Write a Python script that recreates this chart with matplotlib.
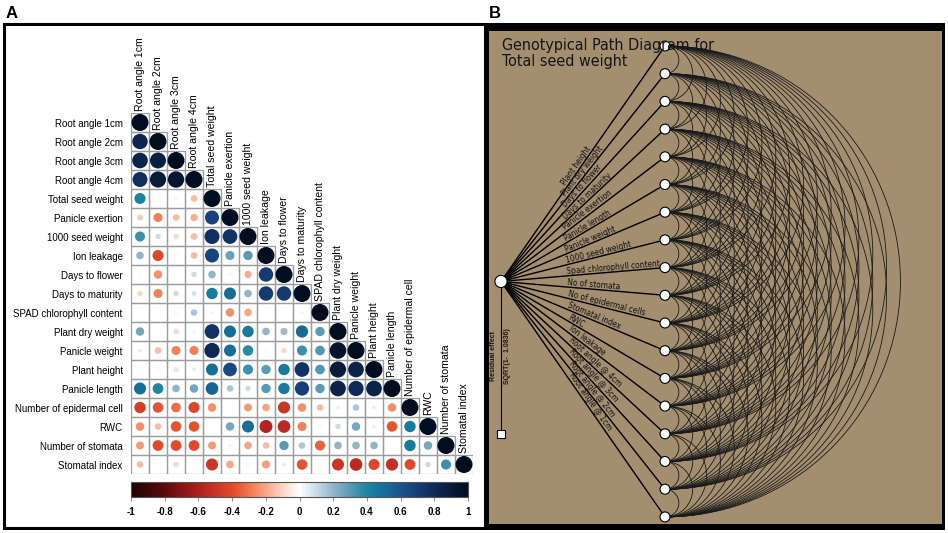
import numpy as np
import matplotlib
matplotlib.use('Agg')
import matplotlib.pyplot as plt
from matplotlib.colors import LinearSegmentedColormap, Normalize
from matplotlib.patches import Rectangle, Circle, Arc
import matplotlib.colorbar as mcolorbar

W, H = 948, 533

# ---- panel A data: lower triangle of the correlation matrix ----
traits = ['Root angle 1cm', 'Root angle 2cm', 'Root angle 3cm', 'Root angle 4cm',
          'Total seed weight', 'Panicle exertion', '1000 seed weight', 'Ion leakage',
          'Days to flower', 'Days to maturity', 'SPAD chlorophyll content',
          'Plant dry weight', 'Panicle weight', 'Plant height', 'Panicle length',
          'Number of epidermal cell', 'RWC', 'Number of stomata', 'Stomatal index']

corr_rows = [
    [1],
    [0.82, 1],
    [0.84, 0.88, 1],
    [0.78, 0.90, 0.93, 1],
    [0.42, 0.02, 0.03, -0.15, 1],
    [-0.12, -0.28, -0.15, -0.18, 0.68, 1],
    [0.35, 0.10, -0.10, -0.15, 0.78, 0.75, 1],
    [0.20, -0.42, 0.03, -0.15, 0.68, 0.28, 0.30, 1],
    [0.02, -0.25, 0.0, 0.10, 0.20, -0.03, -0.18, 0.72, 1],
    [-0.10, -0.28, 0.10, 0.08, 0.45, 0.50, 0.20, 0.72, 0.72, 1],
    [0.0, 0.01, 0.03, 0.15, 0.03, -0.25, -0.20, 0.0, 0.0, 0.03, 1],
    [0.25, 0.02, -0.10, 0.03, 0.75, 0.50, 0.45, 0.20, 0.18, 0.52, 0.30, 1],
    [0.05, -0.15, -0.28, -0.28, 0.80, 0.50, 0.38, 0.02, -0.10, 0.35, 0.32, 0.95, 1],
    [0.01, 0.02, -0.08, 0.05, 0.50, 0.65, 0.35, 0.30, 0.45, 0.75, 0.32, 0.90, 0.85, 1],
    [0.50, 0.40, 0.20, 0.25, 0.55, 0.15, 0.10, 0.30, 0.45, 0.70, 0.30, 0.85, 0.80, 0.85, 1],
    [-0.45, -0.38, -0.32, -0.42, -0.25, 0.0, -0.22, -0.20, -0.50, -0.25, -0.15, 0.04, 0.15,
     0.04, -0.25, 1],
    [-0.25, -0.15, -0.38, -0.38, 0.0, 0.25, 0.50, -0.58, -0.55, -0.28, 0.03, 0.10, 0.25,
     0.04, -0.38, 0.45, 1],
    [-0.22, -0.40, -0.40, -0.40, -0.22, 0.03, -0.20, -0.15, 0.30, 0.15, -0.35, 0.20, 0.20,
     0.20, 0.0, 0.45, 0.25, 1],
    [-0.15, 0.0, -0.10, 0.0, -0.50, -0.20, 0.03, -0.22, 0.05, -0.38, 0.02, -0.50, -0.55,
     -0.42, -0.52, -0.40, 0.10, 0.35, 1],
]

cbar_ticks = [-1, -0.8, -0.6, -0.4, -0.2, 0, 0.2, 0.4, 0.6, 0.8, 1]

# ---- panel B data: path diagram ----
path_title = 'Genotypical Path Diagram for\nTotal seed weight'
path_traits = ['Plant height', 'Plant dry weight', 'Days to flower', 'Days to maturity',
               'Panicle exertion', 'Panicle length', 'Panicle weight', '1000 seed weight',
               'Spad chlorophyll content', 'No of stomata', 'No of epidermal cells',
               'Stomatal index', 'RWC', 'Ion leakage', 'Root angle @ 4cm',
               'Root angle @ 3cm', 'Root angle @ 2cm', 'Root angle @ 1cm']
residual_lines = ['Residual effect', 'SQRT(1-  1.0836)']

cmap = LinearSegmentedColormap.from_list('corr', [
    (0.00, '#1f0204'), (0.10, '#5c0b0e'), (0.20, '#b01f1f'), (0.30, '#e34a2a'),
    (0.35, '#f27649'), (0.40, '#f9a586'), (0.45, '#fcd6c6'), (0.50, '#ffffff'),
    (0.55, '#c8dbe7'), (0.60, '#93b5cb'), (0.65, '#5a9bb6'), (0.70, '#1a87a3'),
    (0.75, '#16709a'), (0.80, '#1a5590'), (0.85, '#173f78'), (0.90, '#0e2a58'),
    (1.00, '#020d1f')])
norm = Normalize(-1, 1)


def px_box(x0, y0, x1, y1):
    return [x0 / W, 1 - y1 / H, (x1 - x0) / W, (y1 - y0) / H]


plt.rcParams['font.family'] = ['Liberation Sans', 'DejaVu Sans']
fig = plt.figure(figsize=(W / 100, H / 100), dpi=100, facecolor='white')

# panel frames
fig.add_artist(Rectangle((4 / W, 1 - 528 / H), 481 / W, 504 / H, transform=fig.transFigure,
                         fill=False, ec='black', lw=2.2, zorder=-1))
fig.add_artist(Rectangle((486 / W, 1 - 530 / H), 459 / W, 507 / H, transform=fig.transFigure,
                         fc='black', ec='black', lw=0, zorder=-1))
fig.text(6 / W, 1 - 13 / H, 'A', fontsize=12, fontweight='bold', va='center', ha='left')
fig.text(489 / W, 1 - 13 / H, 'B', fontsize=12, fontweight='bold', va='center', ha='left')

# ---- panel A ----
n = len(traits)
axA = fig.add_axes(px_box(131, 113, 473, 474))
ii, jj, vv = [], [], []
for i, row in enumerate(corr_rows):
    for j, v in enumerate(row):
        axA.add_patch(Rectangle((j - 0.5, i - 0.5), 1, 1, fill=False, ec='#9c9c9c', lw=0.9))
        ii.append(i)
        jj.append(j)
        vv.append(v)
vv = np.array(vv)
axA.scatter(jj, ii, s=150 * np.abs(vv), c=vv, cmap=cmap, norm=norm, lw=0, zorder=3)
axA.set_xlim(-0.5, n - 0.5)
axA.set_ylim(n - 0.5, -0.5)
axA.set_xticks([])
axA.set_yticks(range(n))
axA.set_yticklabels(traits, fontsize=7)
axA.tick_params(axis='y', length=0, pad=6)
for s in axA.spines.values():
    s.set_visible(False)
for j, name in enumerate(traits):
    axA.text(j, j - 0.6, name, rotation=90, ha='center', va='bottom', fontsize=7.6,
             clip_on=False)

cax = fig.add_axes(px_box(131, 482, 468, 497))
cb = mcolorbar.ColorbarBase(cax, cmap=cmap, norm=norm, orientation='horizontal',
                            ticks=cbar_ticks)
cb.outline.set_linewidth(0.8)
cb.outline.set_edgecolor('#555555')
cax.set_xticklabels([('%g' % t) for t in cbar_ticks], fontsize=7, fontweight='bold')
cax.tick_params(axis='x', length=3, width=0.6, color='#777777', pad=4)

# ---- panel B ----
step = 27.7
root_px = (501, 282)
u0 = (489 - root_px[0]) / step
u1 = (942 - root_px[0]) / step
v0 = (31 - 46) / step
v1 = (524 - 46) / step
axB = fig.add_axes(px_box(489, 31, 942, 524))
axB.set_facecolor('#a38e70')
axB.set_xlim(u0, u1)
axB.set_ylim(v1, v0)
axB.set_aspect('equal')
axB.set_xticks([])
axB.set_yticks([])
for s in axB.spines.values():
    s.set_visible(False)

m = len(path_traits)
node_u = (665 - root_px[0]) / step
node_v = np.arange(m)
root_v = (m - 1) / 2

for a in range(m):
    for b in range(a + 1, m):
        d = b - a
        axB.add_patch(Arc((node_u, (a + b) / 2), d, d, theta1=-90, theta2=90,
                          color='#1a1a1a', lw=0.6, zorder=2))

for k, name in enumerate(path_traits):
    axB.plot([0, node_u], [root_v, node_v[k]], color='black', lw=1.0, zorder=3)
    ang = np.degrees(np.arctan2(-(node_v[k] - root_v), node_u))
    t = 0.40
    axB.text(t * node_u, root_v + t * (node_v[k] - root_v), name, rotation=ang,
             rotation_mode='anchor', ha='left', va='bottom', fontsize=6,
             family='DejaVu Sans', fontstretch='condensed', color='#111111', zorder=4)
    axB.add_patch(Circle((node_u, node_v[k]), 0.18, fc='white', ec='black', lw=0.8, zorder=5))

res_v = (434 - 46) / step
axB.plot([0, 0], [root_v, res_v], color='black', lw=0.8, zorder=3)
axB.add_patch(Rectangle((-0.15, res_v - 0.15), 0.3, 0.3, fc='white', ec='black', lw=0.8,
                        zorder=5))
axB.add_patch(Circle((0, root_v), 0.22, fc='white', ec='black', lw=0.8, zorder=5))
axB.text(-0.27, 11.2, residual_lines[0], rotation=90, ha='center', va='center',
         fontsize=5, fontweight='bold', color='#1a1a1a')
axB.text(0.22, 11.2, residual_lines[1], rotation=90, ha='center', va='center',
         fontsize=5, fontweight='bold', color='#1a1a1a')

axB.text(0.05, -0.3, path_title, ha='left', va='top', fontsize=11.5, linespacing=1.15,
         family='DejaVu Sans', fontstretch='condensed', color='#151515', zorder=6)

fig.savefig('out.png', dpi=100, facecolor='white')
